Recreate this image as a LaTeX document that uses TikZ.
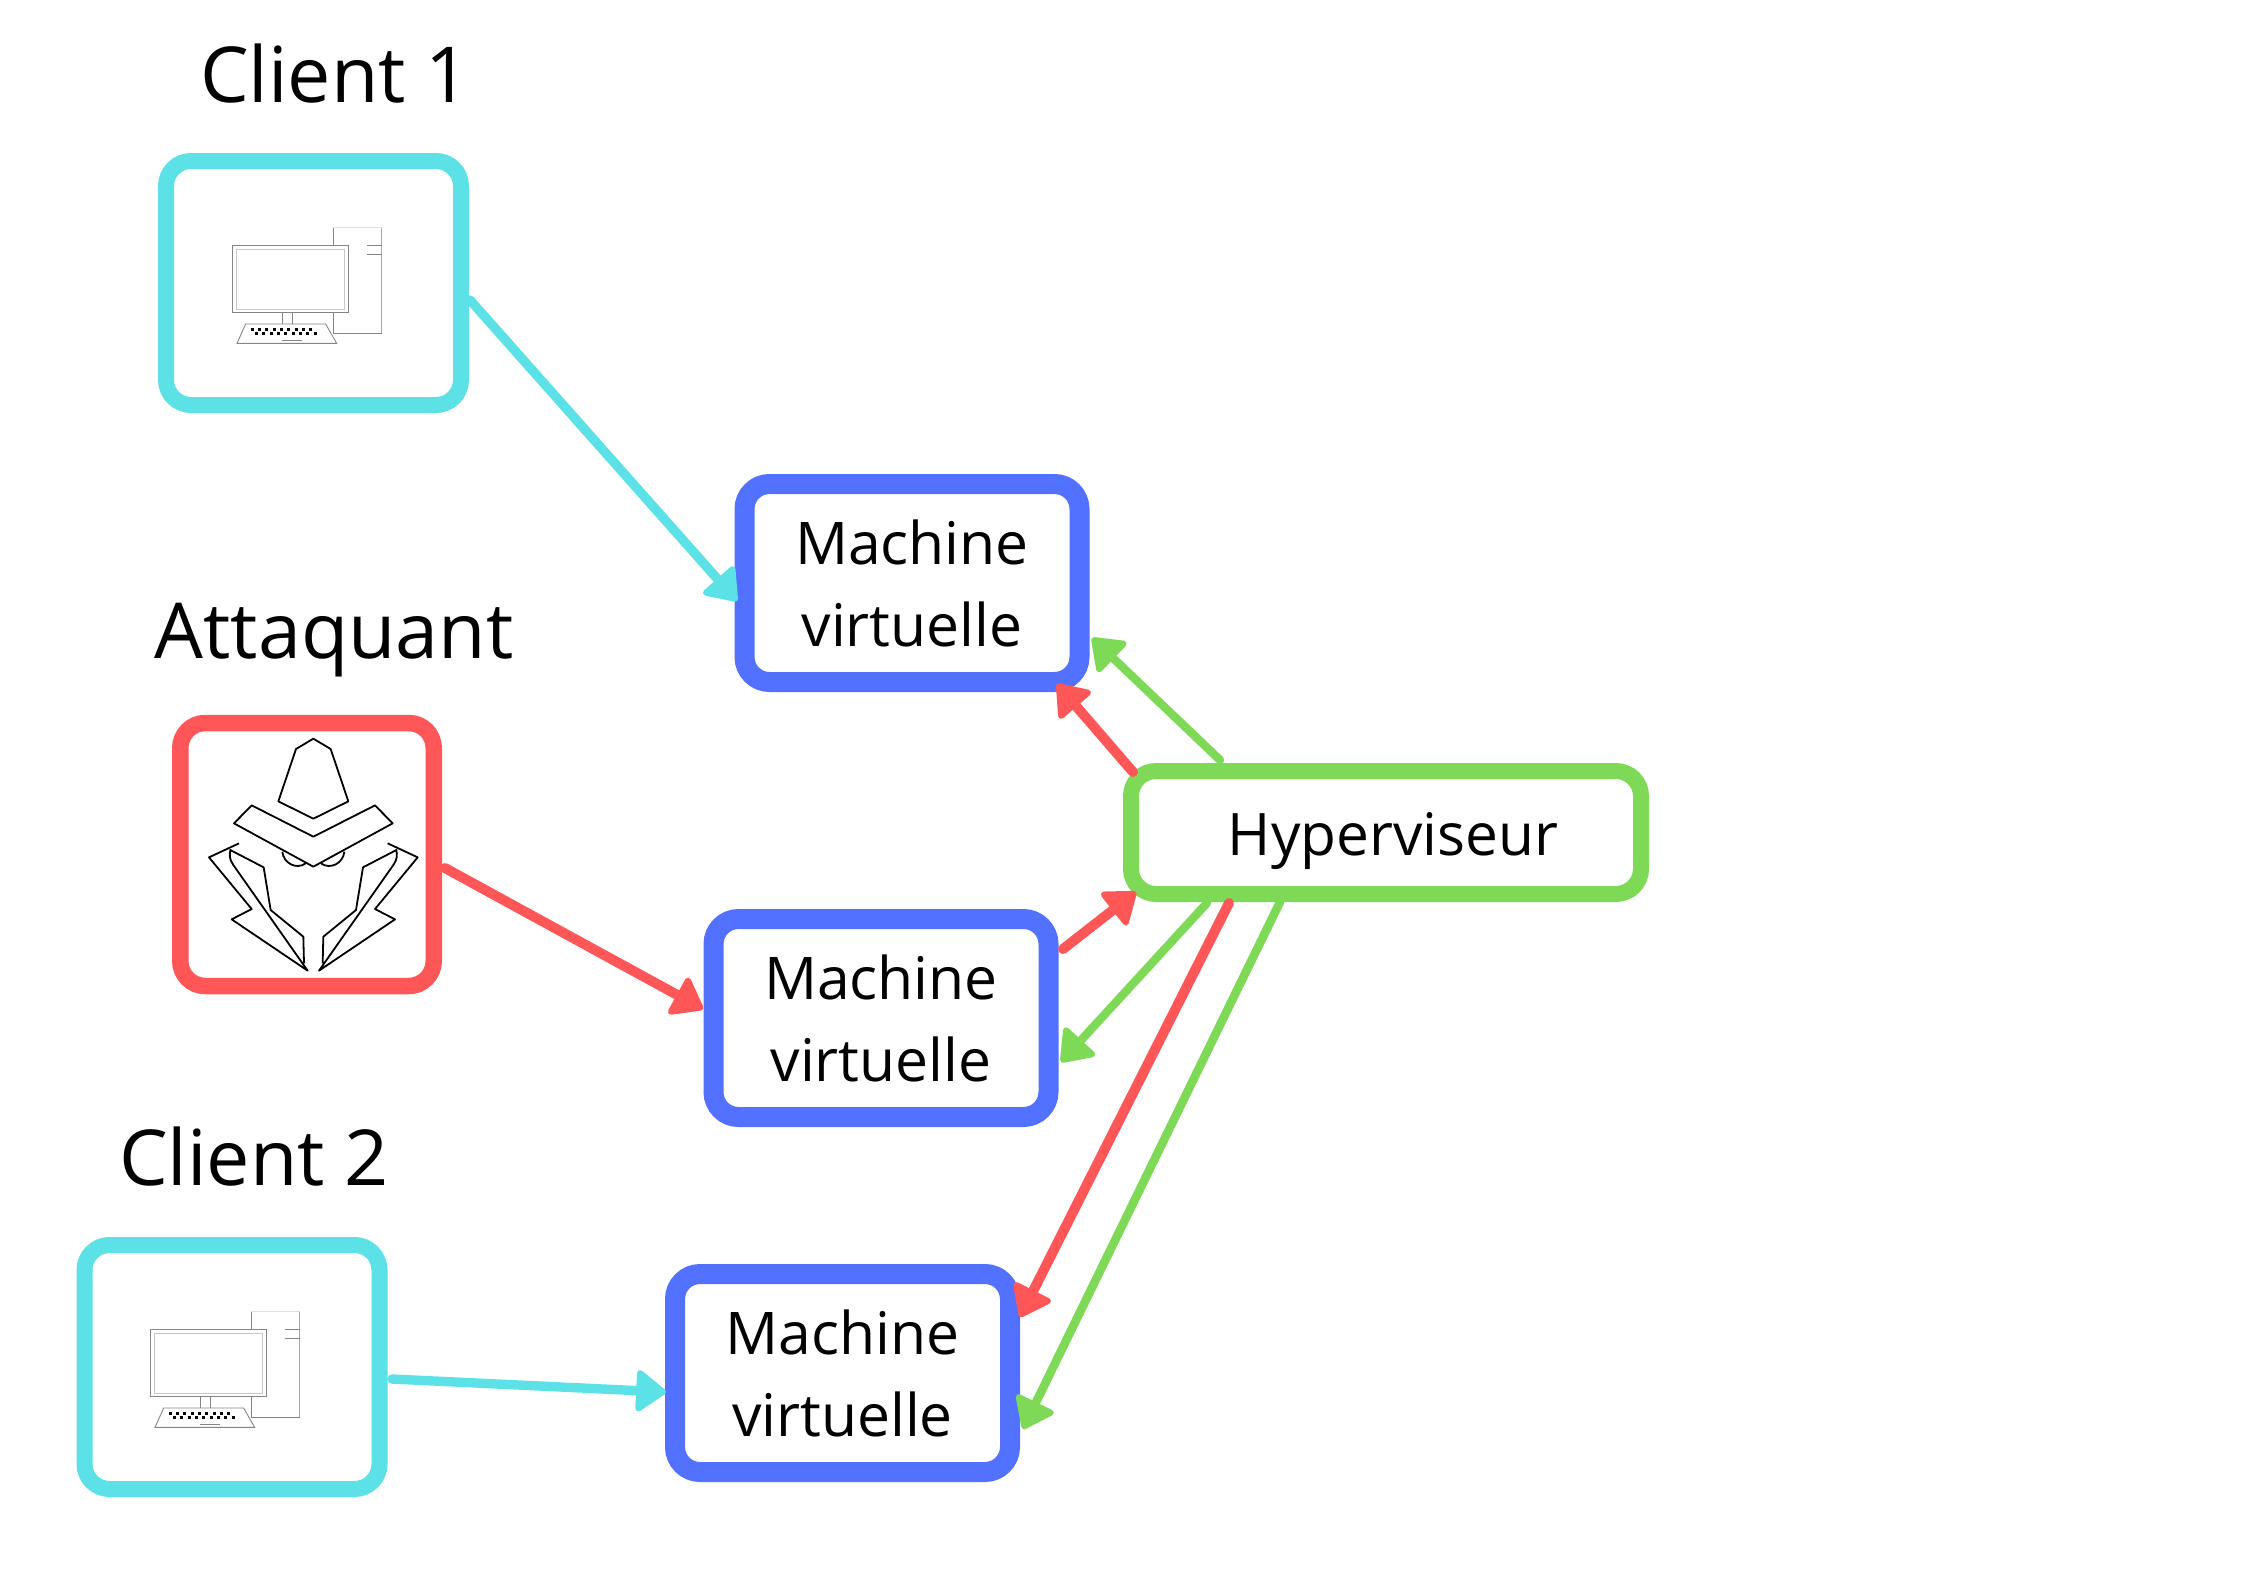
\documentclass[tikz,border=0pt]{standalone}
\usepackage{fontspec}
\setmainfont{Open Sans}
\usetikzlibrary{arrows.meta}
\definecolor{cyanc}{HTML}{5CE1E6}
\definecolor{redc}{HTML}{FF5757}
\definecolor{bluec}{HTML}{5271FF}
\definecolor{greenc}{HTML}{7ED957}
\tikzset{
  box/.style={draw=#1,rounded corners=12.5pt,inner sep=0pt,outer sep=0pt,fill=white},
  clientbox/.style={box=cyanc,line width=8pt,minimum width=147.5pt,minimum height=122pt},
  attackbox/.style={box=redc,line width=8.25pt,minimum width=126.75pt,minimum height=131.5pt},
  vmbox/.style={box=bluec,line width=10pt,minimum width=167.5pt,minimum height=99pt,align=center,font=\fontsize{29.4}{41}\selectfont},
  hvbox/.style={box=greenc,line width=8pt,minimum width=255pt,minimum height=61.5pt,font=\fontsize{29.3}{40.5}\selectfont},
  title/.style={anchor=base,font=\fontsize{38.6}{45}\selectfont,inner sep=0pt},
  link/.style={line width=#1,line cap=round,-{Triangle[round,length=16pt,width=23pt,line width=3pt]}},
  pcline/.style={line width=0.45pt,draw=black!48},
  hackline/.style={line width=0.9pt,draw=black,line join=round}
}
\newcommand{\pcicon}[1]{%
  \begin{scope}[shift={(#1)},x=0.16667pt,y=-0.16667pt]
    \draw[pcline] (580,316) -- (580,263);
    \draw[line width=0.45pt,draw=black!12] (580,263) -- (725,263);
    \draw[line width=0.45pt,draw=black!35] (725,263) -- (725,580);
    \draw[pcline] (725,580) -- (580,580) -- (580,518);
    \draw[pcline] (681,316) -- (725,316) (681,343) -- (725,343);
    \draw[pcline] (277,316) rectangle (625,518);
    \draw[line width=0.45pt,draw=black!22] (288,328) rectangle (614,507);
    \draw[pcline] (428,518) -- (428,552) (458,518) -- (458,552);
    \draw[pcline] (317,552) -- (557,552) -- (590,610) -- (291,610) -- cycle;
    \draw[pcline] (427,601) -- (485,601);
    \foreach \k in {0,...,8} {
      \fill (336+22*\k-4,564) rectangle +(9,8);
      \fill (349+22*\k-4,577) rectangle +(9,8);
    }
  \end{scope}}
\newcommand{\coathalf}{%
  \draw[hackline] (237,430) -- (147,472) -- (275,627) -- (215,658) -- (443,812) -- (220,495)
    .. controls (208,478) and (208,465) .. (211,450) -- (311,502) -- (332,630) -- (430,710) -- (432,790);
  \draw[hackline] (367,455) .. controls (370,490) and (410,510) .. (437,490);}
\begin{document}
\begin{tikzpicture}[x=0.5pt,y=-0.5pt]
\useasboundingbox (0,0) rectangle (2245,1587);
% boxes
\node[clientbox] (c1) at (313.5,283) {};
\node[attackbox] (att) at (307,854.5) {};
\node[clientbox] (c2) at (232,1367) {};
\node[vmbox] (vm1) at (912,583) {Machine\\virtuelle};
\node[vmbox] (vm2) at (881,1018) {Machine\\virtuelle};
\node[vmbox] (vm3) at (842.5,1373) {Machine\\virtuelle};
\node[hvbox] (hv) at (1386,832.5) {\hspace*{7pt}\raisebox{-11.25pt}[0pt][0pt]{Hyperviseur}};
% titles
\node[title] (t1) at (335,102) {Client 1};
\node[title] (t2) at (334,658) {Attaquant};
\node[title] (t3) at (254,1185) {Client 2};
% icons
\pcicon{140,140}
\pcicon{58,1224}
\begin{scope}[shift={(160,700)},x=0.16667pt,y=-0.16667pt]
  \draw[hackline] (460,116) -- (408,147) -- (355,304) -- (460,356) -- (565,304) -- (512,147) -- cycle;
  \draw[hackline] (275,316) -- (222,370) -- (460,500) -- (698,370) -- (645,316) -- (460,410) -- cycle;
  \coathalf
  \begin{scope}[shift={(920,0)},xscale=-1]
    \coathalf
  \end{scope}
\end{scope}
% connector ends
\coordinate (a1) at (470,300);  \coordinate (b1) at (737,601);
\coordinate (a2) at (445,868);  \coordinate (b2) at (703,1009);
\coordinate (a3) at (392,1379); \coordinate (b3) at (666,1392);
\coordinate (a4) at (1220,760); \coordinate (b4) at (1092,638);
\coordinate (a5) at (1133,772); \coordinate (b5) at (1057,684);
\coordinate (a6) at (1063,949); \coordinate (b6) at (1136,892);
\coordinate (a7) at (1207,903); \coordinate (b7) at (1061,1062);
\coordinate (a8) at (1229,903); \coordinate (b8) at (1020,1317);
\coordinate (a9) at (1280,902); \coordinate (b9) at (1023,1429);
% connectors
\draw[link=4.7pt,draw=cyanc] (a1) -- (b1);
\draw[link=5pt,draw=redc] (a2) -- (b2);
\draw[link=4.7pt,draw=cyanc] (a3) -- (b3);
\draw[link=4.2pt,draw=greenc] (a4) -- (b4);
\draw[link=5pt,draw=redc] (a5) -- (b5);
\draw[link=5pt,draw=redc] (a6) -- (b6);
\draw[link=4.2pt,draw=greenc] (a7) -- (b7);
\draw[link=5pt,draw=redc] (a8) -- (b8);
\draw[link=4.3pt,draw=greenc] (a9) -- (b9);
\end{tikzpicture}
\end{document}
